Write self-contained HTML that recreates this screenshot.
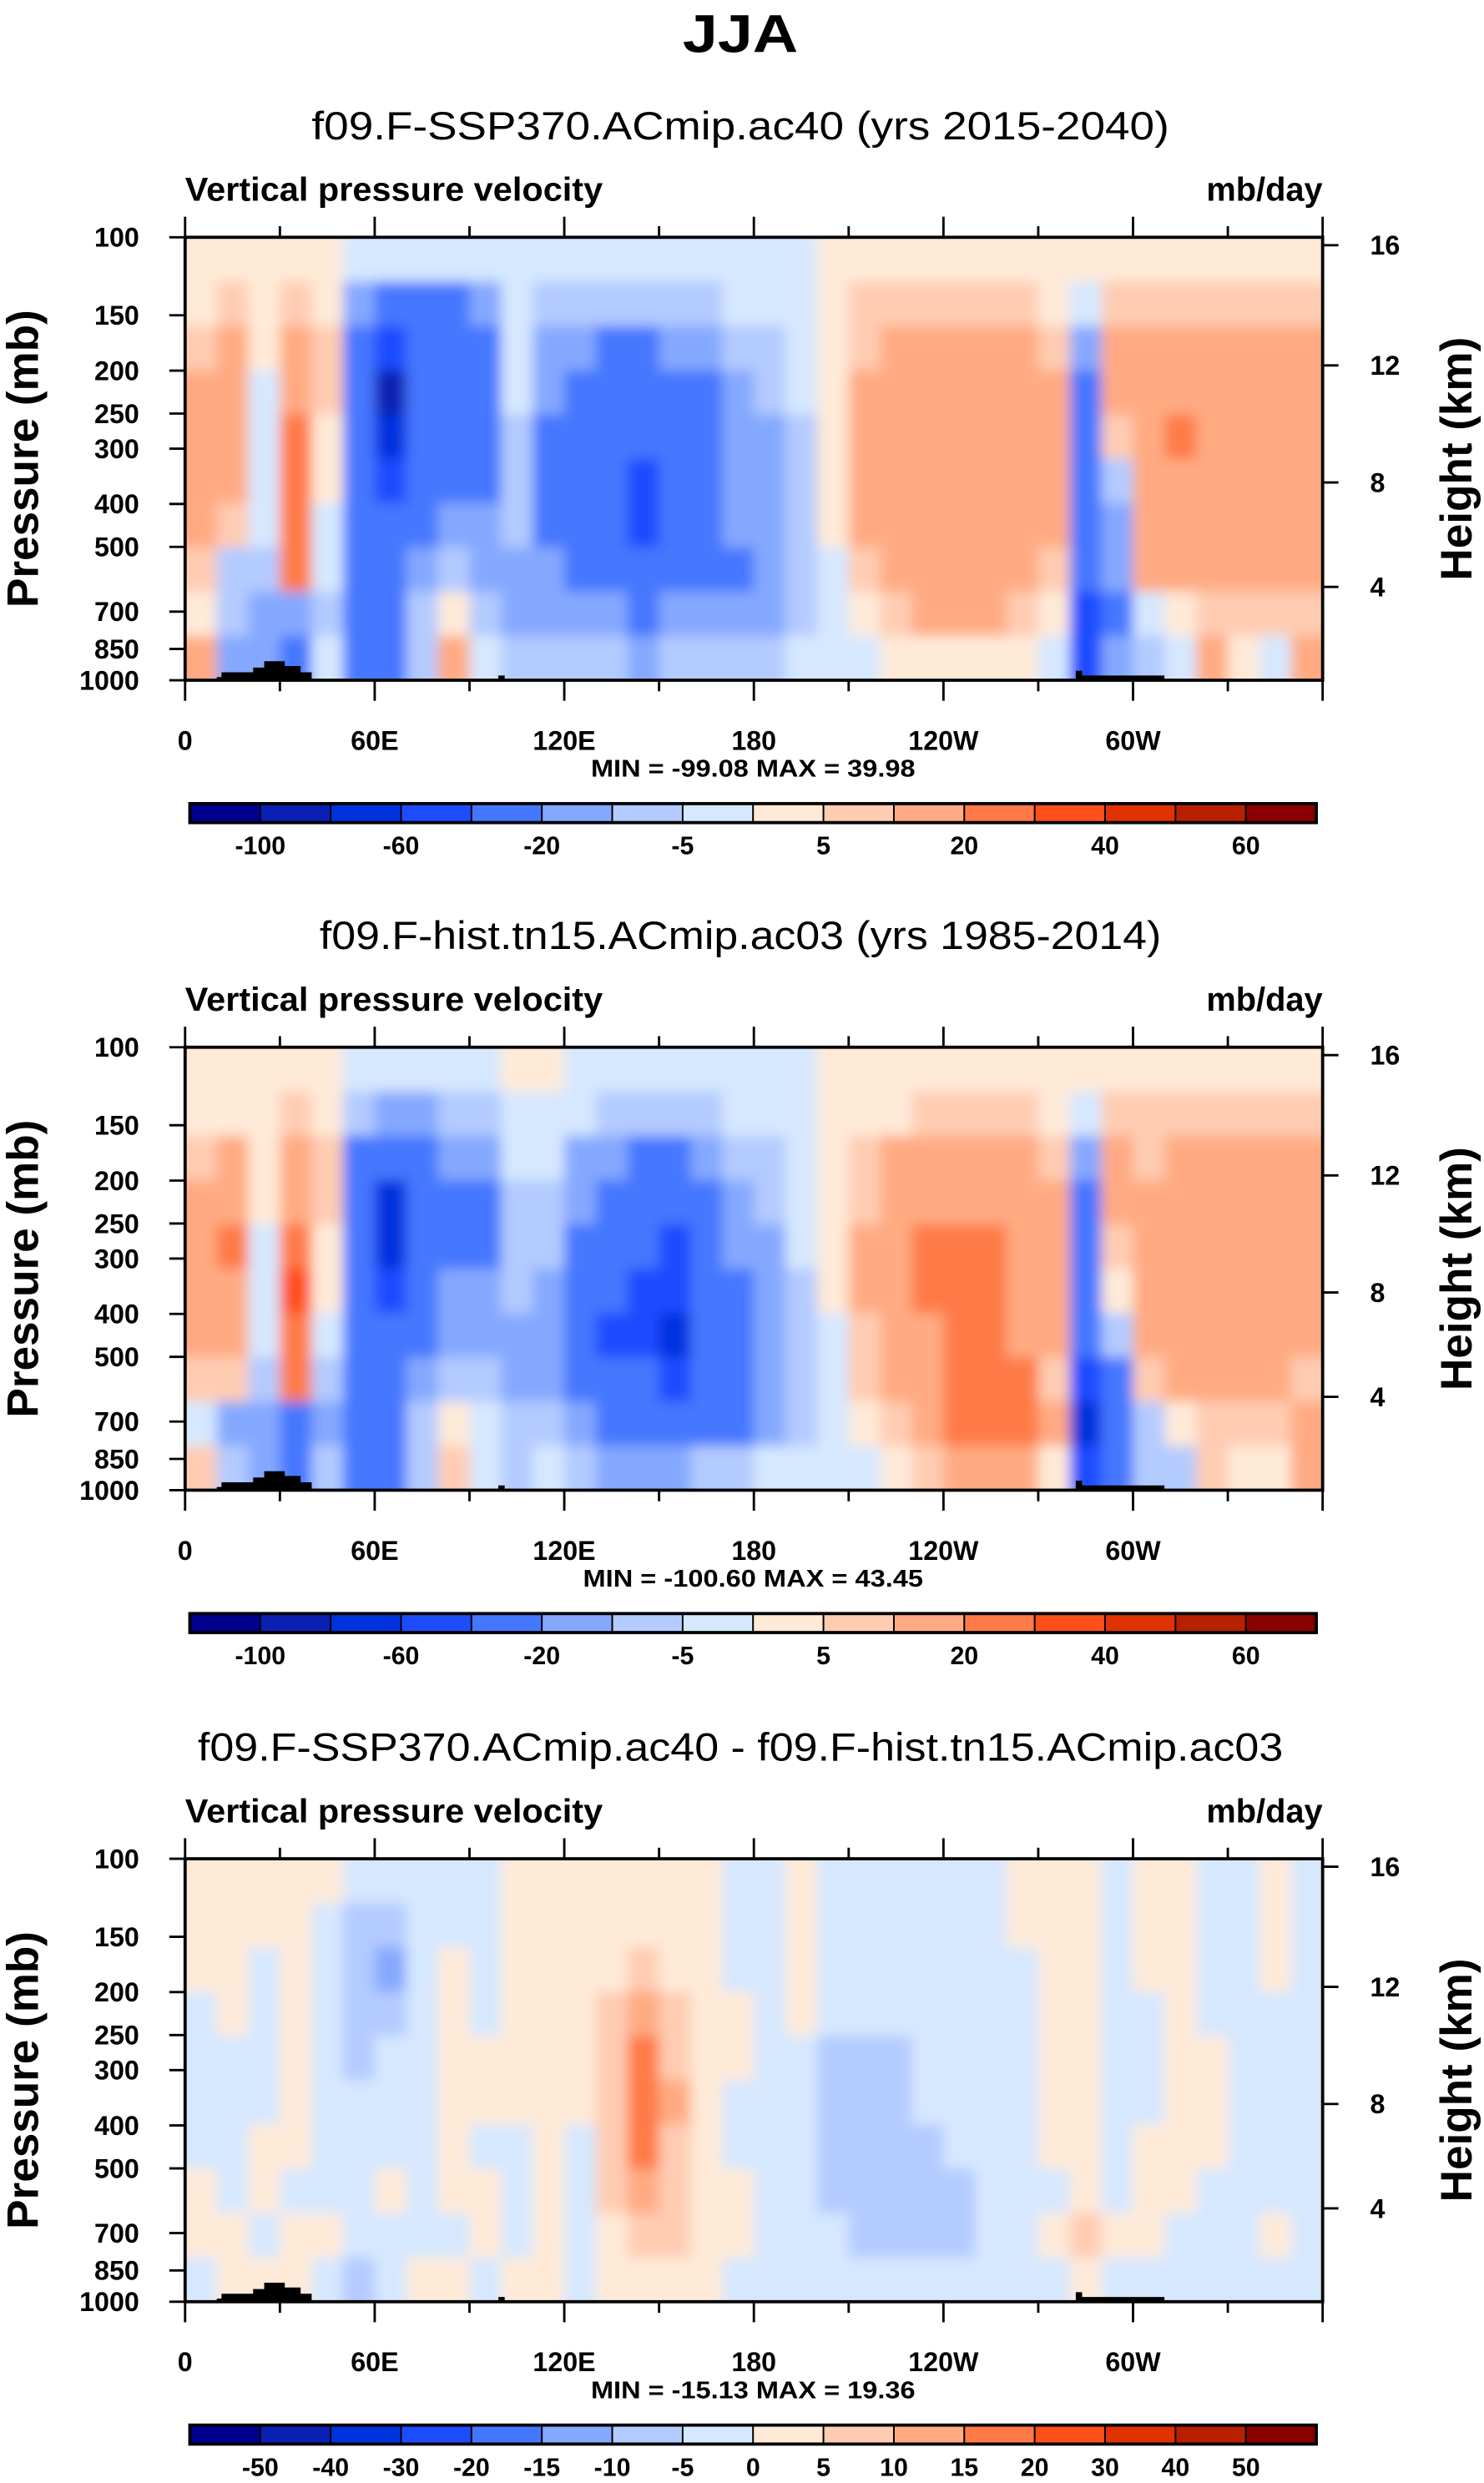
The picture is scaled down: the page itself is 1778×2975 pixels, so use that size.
<!DOCTYPE html>
<html><head><meta charset="utf-8"><style>
html,body{margin:0;padding:0;background:#fff;}
svg{display:block;}
text{font-family:"Liberation Sans",Arial,sans-serif;fill:#000;}
</style></head>
<body>
<svg id="fig" width="1778" height="2975" viewBox="0 0 938 1569.6" preserveAspectRatio="none" xmlns="http://www.w3.org/2000/svg">
<defs>
<filter id="soft" x="-5%" y="-5%" width="110%" height="110%"><feGaussianBlur stdDeviation="4"/></filter>
<clipPath id="clip0"><rect x="117" y="150" width="719" height="280"/></clipPath>
<clipPath id="clip1"><rect x="117" y="662" width="719" height="280"/></clipPath>
<clipPath id="clip2"><rect x="117" y="1175" width="719" height="280"/></clipPath>
</defs>
<text x="468" y="33" font-size="34" font-weight="bold" text-anchor="middle" textLength="73" lengthAdjust="spacingAndGlyphs">JJA</text>
</svg>
<script>
// ---- data ----
const lonStarts = [0,10,20,30,40,50,60,70,80,90,100,110,120,130,140,150,160,170,180,190,200,210,220,230,240,250,260,270,280,290,300,310,320,330,340,350];
const pLabels = [100,150,200,250,300,400,500,700,850,1000];
const hLabels = [16,12,8,4];
const hPixels = [155,231,305,371];
const xTickLabels = ["0","60E","120E","180","120W","60W"];
const levelsAbs = [-100,-80,-60,-40,-20,-10,-5,0,5,10,20,30,40,50,60];
const levelsDiff = [-50,-40,-30,-20,-15,-10,-5,0,5,10,15,20,30,40,50];
const cbLabelsAbs = ["-100","-60","-20","-5","5","20","40","60"];
const cbLabelsDiff = ["-50","-40","-30","-20","-15","-10","-5","0","5","10","15","20","30","40","50"];
const palette = ["#00008f","#0a20b4","#0033de","#1d4cff","#4477ff","#85a8ff","#b3cbff","#d6e8ff","#ffead8","#ffccb2","#ffaa82","#ff7a46","#ff4f1a","#e03200","#b82000","#8b0000"];
const titles = ["f09.F-SSP370.ACmip.ac40 (yrs 2015-2040)","f09.F-hist.tn15.ACmip.ac03 (yrs 1985-2014)","f09.F-SSP370.ACmip.ac40 - f09.F-hist.tn15.ACmip.ac03"];
const titleWidths = [542,532,686];
const minmax = ["MIN = -99.08  MAX =  39.98","MIN = -100.60  MAX =  43.45","MIN = -15.13  MAX = 19.36"];
const minmaxWidths = [205,215,205];

const omegaSSP = [
[2,3,8,12,12,15,12,5,0,12],[2,8,15,15,15,15,8,-10,-10,-20],[2,3,3,-3,-3,-3,-5,-10,-15,-20],[2,8,15,15,25,25,25,25,-20,-30],
[2,3,5,5,3,3,-3,-5,-10,-5],[-3,-15,-30,-40,-40,-40,-30,-25,-25,-30],[-5,-30,-50,-85,-70,-50,-40,-30,-25,-25],[-5,-30,-40,-40,-40,-30,-25,-15,-8,-8],
[-5,-25,-30,-30,-30,-25,-20,-10,3,12],[-3,-12,-25,-30,-30,-25,-15,-12,-10,-5],[-2,-5,-5,-5,-8,-10,-10,-15,-15,-10],[-3,-6,-12,-20,-25,-25,-25,-20,-15,-10],
[-3,-8,-15,-25,-25,-30,-30,-25,-20,-10],[-3,-8,-25,-30,-30,-35,-30,-25,-20,-10],[-3,-10,-25,-30,-30,-42,-45,-30,-25,-15],[-3,-8,-20,-30,-30,-30,-30,-25,-20,-10],
[-3,-6,-15,-25,-25,-25,-25,-25,-20,-10],[-2,-5,-10,-15,-20,-20,-20,-25,-20,-8],[-2,-3,-6,-8,-12,-15,-15,-20,-12,-6],[-2,-2,-3,-5,-6,-8,-10,-10,-8,-4],
[2,3,3,3,3,3,2,-2,-3,-3],[2,5,8,12,12,12,10,6,3,-2],[2,6,12,15,15,15,15,12,6,2],[2,7,15,15,15,15,15,15,12,4],
[2,7,15,15,15,15,15,15,15,4],[2,6,15,15,15,15,15,15,15,3],[2,5,12,15,15,15,15,12,8,3],[2,3,8,12,12,12,12,8,3,-5],
[2,-5,-20,-25,-30,-30,-30,-40,-60,-60],[2,5,12,10,5,-10,-20,-20,-30,-20],[2,6,12,15,15,15,15,12,-5,-10],[2,6,12,15,25,15,15,10,3,-5],
[2,6,12,15,15,15,15,12,5,15],[2,6,12,15,15,15,15,12,5,3],[2,6,12,15,15,15,15,12,8,-3],[2,6,12,15,15,15,15,12,8,12]];
const omegaHist = [
[2,3,8,12,12,12,12,8,-3,8],[2,3,12,15,25,15,12,8,-20,-10],[2,2,3,3,-3,-3,-5,-10,-15,-20],[2,8,12,15,25,30,25,25,-25,-30],
[2,2,5,5,3,3,-5,-8,-15,-10],[-2,-8,-30,-40,-40,-40,-40,-30,-30,-30],[-3,-15,-40,-70,-70,-50,-40,-30,-30,-25],[-3,-15,-30,-40,-40,-30,-25,-15,-10,-10],
[-3,-10,-20,-25,-25,-20,-15,-8,3,8],[-2,-6,-12,-25,-25,-20,-15,-10,-5,-3],[3,-3,-5,-8,-10,-10,-15,-15,-10,-8],[2,-3,-5,-6,-10,-12,-15,-15,-10,-5],
[-2,-5,-15,-20,-25,-25,-30,-25,-20,-10],[-2,-8,-15,-25,-30,-40,-45,-35,-25,-15],[-3,-10,-25,-30,-40,-50,-50,-40,-30,-15],[-3,-10,-25,-30,-45,-60,-70,-45,-30,-15],
[-2,-8,-20,-25,-30,-40,-40,-35,-25,-10],[-2,-5,-10,-15,-20,-25,-25,-30,-25,-8],[-2,-3,-6,-10,-12,-15,-20,-20,-15,-5],[-2,-2,-3,-4,-5,-6,-8,-10,-6,-3],
[2,3,3,3,2,2,-2,-3,-3,-3],[2,3,6,8,12,12,8,6,3,-2],[2,4,10,15,15,15,15,12,8,3],[2,6,15,15,25,25,15,15,15,8],
[2,6,15,15,25,25,25,25,25,12],[2,6,15,15,25,25,25,25,25,12],[2,5,12,15,15,15,15,25,25,12],[2,3,8,12,12,12,10,8,12,3],
[2,-5,-20,-25,-30,-35,-40,-50,-70,-60],[2,5,10,10,8,3,-10,-25,-35,-25],[2,5,8,15,15,15,15,8,-8,-10],[2,6,10,15,15,15,15,12,3,-8],
[2,6,12,15,15,15,15,12,5,8],[2,6,12,15,15,15,15,12,5,3],[2,6,10,15,15,15,15,12,8,3],[2,6,10,15,15,15,15,8,12,15]];
const omegaDiff = [
[2,2,2,-2,-2,-2,-2,2,2,-2],[2,2,2,2,-2,-2,-2,-2,2,2],[2,2,-2,-2,-2,-2,2,2,-2,2],[2,2,2,2,2,2,2,-2,2,2],
[2,-2,-2,-2,-2,-2,-2,-2,2,-2],[-2,-7,-8,-7,-7,-2,-2,-2,-2,-7],[-2,-7,-12,-7,-2,-2,-2,2,-2,-2],[-2,-2,-2,-2,-2,-2,-2,-2,-2,2],
[-2,-2,2,2,2,2,2,2,-2,2],[-2,-2,-2,-2,2,2,-2,2,2,-2],[2,2,2,2,2,2,-2,-2,-2,2],[2,2,2,2,2,2,2,2,2,2],
[2,2,2,2,2,2,-2,-2,-2,-2],[2,2,2,7,8,7,7,7,2,2],[2,2,7,12,17,17,15,12,7,2],[2,2,2,7,8,12,8,7,7,2],
[2,2,2,2,2,2,2,2,2,2],[-2,-2,-2,2,2,-2,-2,2,2,-2],[-2,-2,-2,-2,-2,-2,-2,-2,-2,-2],[2,2,2,2,-2,-2,-2,-2,-2,-2],
[-2,-2,-2,-2,-7,-7,-7,-7,-2,-2],[-2,-2,-2,-2,-7,-7,-7,-7,-7,-2],[-2,-2,-2,-2,-7,-7,-7,-7,-7,-2],[-2,-2,-2,-2,-2,-2,-7,-7,-7,-2],
[-2,-2,-2,-2,-2,-2,-2,-7,-7,-2],[-2,-2,-2,-2,-2,-2,-2,-2,-2,-2],[2,2,-2,-2,-2,-2,-2,-2,-2,-2],[2,2,2,2,2,2,2,-2,2,-2],
[2,2,2,2,2,2,2,2,7,2],[-2,-2,-2,-2,-2,-2,-2,-2,2,-2],[2,2,2,-2,-2,-2,2,2,2,-2],[2,2,2,2,2,2,2,2,-2,-2],
[-2,-2,-2,-2,2,2,2,-2,-2,-2],[-2,-2,-2,-2,-2,-2,-2,-2,-2,-2],[2,2,2,-2,-2,-2,-2,-2,2,-2],[-2,-2,-2,-2,-2,-2,-2,-2,-2,-2]];

// ---- layout ----
const NS="http://www.w3.org/2000/svg";
const svg=document.getElementById('fig');
const L=117,R=836,H=280;
const offsets=[0,512,1025];
function el(tag,attrs,parent){const e=document.createElementNS(NS,tag);for(const k in attrs)e.setAttribute(k,attrs[k]);(parent||svg).appendChild(e);return e;}
function xScale(lon){return L+(R-L)*lon/360;}
function yP(p,top){return top+H*Math.log(p/100)/Math.log(10);}
function colorFor(v,levels){let i=0;while(i<levels.length&&v>=levels[i])i++;return palette[i];}
const fields=[omegaSSP,omegaHist,omegaDiff];

offsets.forEach((off,pi)=>{
  const top=150+off,bot=top+H;
  const levels=pi<2?levelsAbs:levelsDiff;
  const t=el('text',{x:468,y:88+off,'font-size':25,'text-anchor':'middle',textLength:titleWidths[pi],lengthAdjust:'spacingAndGlyphs'});t.textContent=titles[pi];
  
  
  const a=el('text',{x:117,y:127+off,'font-size':21,'font-weight':'bold',textLength:264,lengthAdjust:'spacingAndGlyphs'});a.textContent='Vertical pressure velocity';
  
  
  const u=el('text',{x:836,y:127+off,'font-size':21,'font-weight':'bold','text-anchor':'end'});u.textContent='mb/day';
  
  
  const g=el('g',{'clip-path':'url(#clip'+pi+')'});
  
  
  const gi=el('g',{filter:'url(#soft)'},g);
  const data=fields[pi];const nr=data[0].length;const rh=H/nr;
  data.forEach((col,ci)=>{
    const x0=xScale(lonStarts[ci]);const x1=xScale(lonStarts[ci]+10);
    const ex0=ci===0?x0-12:x0, ex1=ci===data.length-1?x1+12:x1;
    col.forEach((v,ri)=>{
      let y0=top+ri*rh,y1=top+(ri+1)*rh;
      if(ri===0)y0-=12; if(ri===nr-1)y1+=12;
      const c=el('rect',{x:ex0,y:y0,width:ex1-ex0+0.6,height:y1-y0+0.6,fill:colorFor(v,levels)},gi);
      
      
    });
  });
  const topo=el('path',{d:`M137 ${bot} V${bot-2} H140 V${bot-5} H160 V${bot-8} H167 V${bot-12} H180 V${bot-9} H190 V${bot-5} H197 V${bot} Z M315 ${bot} V${bot-3} H319 V${bot} Z M680 ${bot} V${bot-6} H684 V${bot-3} H736 V${bot} Z`,fill:'#000'});
  
  
  const fr=el('rect',{x:L,y:top,width:R-L,height:H,fill:'none',stroke:'#000','stroke-width':2});
  
  
  for(let lon=0;lon<=360;lon+=30){
    const x=xScale(lon);const major=lon%60===0;const len=major?13:7;
    el('line',{x1:x,y1:bot,x2:x,y2:bot+len,stroke:'#000','stroke-width':1.5});
    el('line',{x1:x,y1:top,x2:x,y2:top-len,stroke:'#000','stroke-width':1.5});
  }
  xTickLabels.forEach((lab,i)=>{
    const tx=el('text',{x:xScale(i*60),y:bot+44,'font-size':17,'font-weight':'bold','text-anchor':'middle'});tx.textContent=lab;
    
    
  });
  const mm=el('text',{x:476,y:bot+61,'font-size':15,'font-weight':'bold','text-anchor':'middle',textLength:minmaxWidths[pi],lengthAdjust:'spacingAndGlyphs'});mm.textContent=minmax[pi];
  
  
  pLabels.forEach(p=>{
    const y=yP(p,top);
    el('line',{x1:L-10,y1:y,x2:L,y2:y,stroke:'#000','stroke-width':1.5});
    const ty=el('text',{x:88,y:y+6,'font-size':17,'font-weight':'bold','text-anchor':'end'});ty.textContent=p;
    
    
  });
  const py=el('text',{x:0,y:0,'font-size':28,'font-weight':'bold','text-anchor':'middle',transform:`translate(24 ${290+off}) rotate(-90)`});py.textContent='Pressure (mb)';
  
  
  hLabels.forEach((h,i)=>{
    const y=hPixels[i]+off;
    el('line',{x1:R,y1:y,x2:R+10,y2:y,stroke:'#000','stroke-width':1.5});
    const th=el('text',{x:866,y:y+6,'font-size':17,'font-weight':'bold'});th.textContent=h;
    
    
  });
  const hy=el('text',{x:0,y:0,'font-size':28,'font-weight':'bold','text-anchor':'middle',transform:`translate(930 ${290+off}) rotate(-90)`});hy.textContent='Height (km)';
  
  
  const cbx=120,cbw=712,cby=508+off,cbh=12,bw=cbw/16;
  const cg=el('g',{});
  
  
  palette.forEach((c,i)=>{
    const b=el('rect',{x:cbx+i*bw,y:cby,width:bw,height:cbh,fill:c,stroke:'#000','stroke-width':1},cg);
    
    
  });
  el('rect',{x:cbx,y:cby,width:cbw,height:cbh,fill:'none',stroke:'#000','stroke-width':2},cg);
  const labs=pi<2?cbLabelsAbs:cbLabelsDiff;const step=pi<2?2:1;
  labs.forEach((lab,i)=>{
    const b=1+i*step;
    const tl=el('text',{x:cbx+b*bw,y:cby+32,'font-size':16,'font-weight':'bold','text-anchor':'middle'},cg);tl.textContent=lab;
    
    
  });
});
</script>
</body></html>
